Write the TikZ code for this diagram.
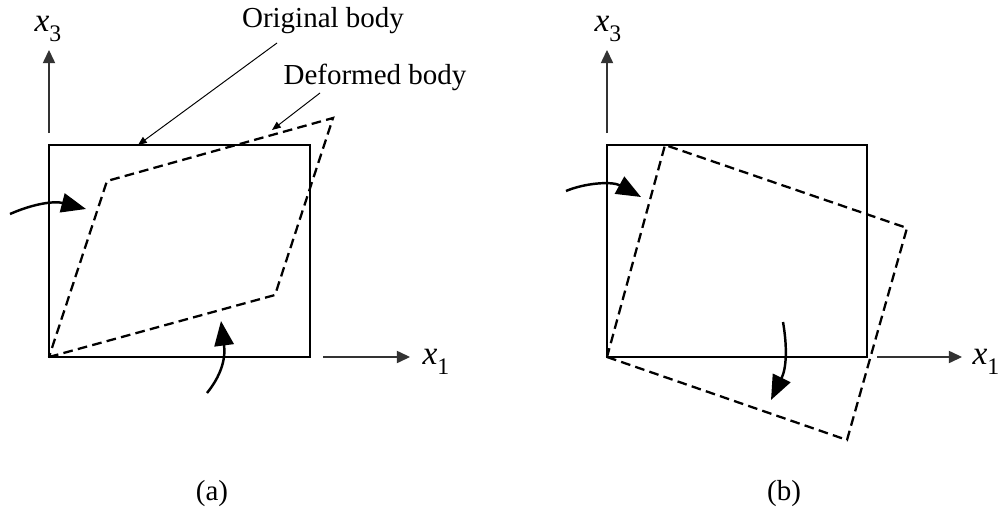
\documentclass[tikz,border=0pt]{standalone}
\usepackage{fontspec}
\setmainfont{Liberation Serif}
\usetikzlibrary{arrows.meta}
\newcommand{\xsub}[1]{{\fontsize{19}{21}\selectfont\textit{x}\raisebox{-5.5pt}{\fontsize{13.5}{14}\selectfont #1}}}
\begin{document}
\begin{tikzpicture}[x=0.02cm,y=-0.02cm,
  body/.style={line width=1.5pt},
  deformed/.style={line width=1.3pt,dash pattern=on 5.5pt off 3pt},
  axis/.style={line width=0.65pt,black!80,-{Triangle[length=7.5pt,width=7pt]}},
  pointer/.style={line width=0.55pt,-{Triangle[length=5pt,width=4pt]}},
  turn/.style={line width=1.4pt,-{Triangle[length=14pt,width=11pt]}},
  lbl/.style={inner sep=0pt,font=\fontsize{16.5}{19}\selectfont}]
\useasboundingbox (0,0) rectangle (1000,517);

% ---------------- panel (a) ----------------
\coordinate (aA) at (49,357);
\coordinate (aB) at (310,357);
\coordinate (aC) at (310,145);
\coordinate (aD) at (49,145);
\draw[body] (aA) -- (aB) -- (aC) -- (aD) -- cycle;

\coordinate (dA) at (49,357);
\coordinate (dB) at (275,295);
\coordinate (dC) at (333,118);
\coordinate (dD) at (107,181);
\draw[deformed,line join=miter] (dA) -- (dB) -- (dC) -- (dD) -- cycle;

\coordinate (ax3s) at (49,133);
\coordinate (ax3e) at (49,50);
\draw[axis] (ax3s) -- (ax3e);
\node[lbl] (ax3l) at (48,29) {\xsub{3}};
\coordinate (ax1s) at (323,357);
\coordinate (ax1e) at (410,357);
\draw[axis] (ax1s) -- (ax1e);
\node[lbl] (ax1l) at (436,362) {\xsub{1}};

\node[lbl] (orig) at (323,21) {Original body};
\node[lbl] (defo) at (375,77) {Deformed body};
\coordinate (origS) at (277,43);
\coordinate (origE) at (138,145);
\draw[pointer] (origS) -- (origE);
\coordinate (defoS) at (320,93);
\coordinate (defoE) at (272,130);
\draw[pointer] (defoS) -- (defoE);

\coordinate (t1s) at (10,214);
\coordinate (t1e) at (86,209);
\draw[turn] (t1s) .. controls (35,203) and (55,201) .. (t1e);
\coordinate (t2s) at (207,393);
\coordinate (t2e) at (221,321);
\draw[turn] (t2s) .. controls (220,377) and (226,360) .. (t2e);

\node[lbl] (capa) at (212,494) {(a)};

% ---------------- panel (b) ----------------
\coordinate (bA) at (607,357);
\coordinate (bB) at (867,357);
\coordinate (bC) at (867,145);
\coordinate (bD) at (607,145);
\draw[body] (bA) -- (bB) -- (bC) -- (bD) -- cycle;

\coordinate (rA) at (607,357);
\coordinate (rB) at (847,440);
\coordinate (rC) at (907,228);
\coordinate (rD) at (665,145);
\draw[deformed,line join=miter] (rA) -- (rB) -- (rC) -- (rD) -- cycle;

\coordinate (bx3s) at (607,133);
\coordinate (bx3e) at (607,50);
\draw[axis] (bx3s) -- (bx3e);
\node[lbl] (bx3l) at (608,29) {\xsub{3}};
\coordinate (bx1s) at (877,357);
\coordinate (bx1e) at (962,357);
\draw[axis] (bx1s) -- (bx1e);
\node[lbl] (bx1l) at (986,362) {\xsub{1}};

\coordinate (t3s) at (566,191);
\coordinate (t3e) at (641,197);
\draw[turn] (t3s) .. controls (585,183) and (612,181) .. (t3e);
\coordinate (t4s) at (783,322);
\coordinate (t4e) at (771,400);
\draw[turn] (t4s) .. controls (787,345) and (787,367) .. (t4e);

\node[lbl] (capb) at (784,494) {(b)};
\end{tikzpicture}
\end{document}
